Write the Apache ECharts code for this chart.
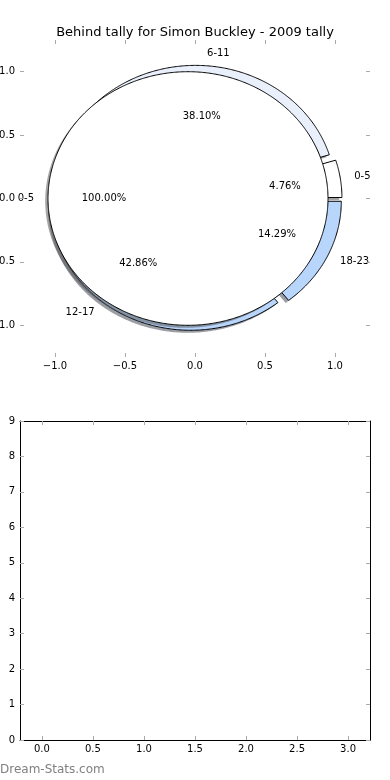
<!DOCTYPE html>
<html>
<head>
<meta charset="utf-8">
<script src="https://cdn.jsdelivr.net/npm/echarts@6/dist/echarts.min.js"></script>
<style>
html,body{margin:0;padding:0;background:#fff;}
#chart{width:390px;height:780px;}
</style>
</head>
<body>
<div id="chart"></div>
<script>
// ---- data ----
const categories = ['0-5', '6-11', '12-17', '18-23'];
const tallies = [1, 8, 9, 3];
const overlayCategories = ['0-5'];
const overlayTallies = [1];
const pieTicks = [-1, -0.5, 0, 0.5, 1];
const pieTickLabels = ['\u22121.0', '\u22120.5', '0.0', '0.5', '1.0'];
const lowerXTicks = [0, 0.5, 1, 1.5, 2, 2.5, 3];
const lowerXTickLabels = ['0.0', '0.5', '1.0', '1.5', '2.0', '2.5', '3.0'];
const lowerYTicks = [0, 1, 2, 3, 4, 5, 6, 7, 8, 9];
const lowerYTickLabels = ['0', '1', '2', '3', '4', '5', '6', '7', '8', '9'];
const titleText = 'Behind tally for Simon Buckley - 2009 tally';
const watermark = 'Dream-Stats.com';

// ---- styles ----
const wedgeColors = ['#ffffff', '#e9f0fc', '#b8d5fb', '#b8d5fb'];
const overlayColor = '#ffffff';
const EXPLODE = 0.05;
const SHADOW_DX = -0.02, SHADOW_DY = -0.02;
const FONT = 'DejaVu Sans';
const TICK_COLOR = '#aaaaaa';

function layout(vals) {
  const total = vals.reduce((a, b) => a + b, 0);
  let acc = 0;
  return vals.map(v => {
    const a1 = acc / total * 360;
    acc += v;
    const a2 = acc / total * 360;
    return [a1, a2, v / total * 100];
  });
}
const wedgeLayout = layout(tallies);
const overlayLayout = layout(overlayTallies);

function shade(hex) {
  const r = parseInt(hex.slice(1, 3), 16), g = parseInt(hex.slice(3, 5), 16), b = parseInt(hex.slice(5, 7), 16);
  return 'rgba(' + Math.round(r * 0.3) + ',' + Math.round(g * 0.3) + ',' + Math.round(b * 0.3) + ',0.5)';
}

function wedgePoints(api, cx, cy, a1, a2) {
  const pts = [];
  const full = (a2 - a1) >= 359.999;
  if (!full) pts.push(api.coord([cx, cy]));
  const n = Math.max(4, Math.ceil((a2 - a1) / 0.5));
  for (let i = 0; i <= n; i++) {
    const a = (a1 + (a2 - a1) * i / n) * Math.PI / 180;
    pts.push(api.coord([cx + Math.cos(a), cy + Math.sin(a)]));
  }
  return pts;
}

function explodeCenter(a1, a2, e) {
  const m = (a1 + a2) / 2 * Math.PI / 180;
  return [e * Math.cos(m), e * Math.sin(m)];
}

function makeWedgeRenderer(colors, overlay) {
  return function (params, api) {
    const a1 = api.value(0), a2 = api.value(1);
    let c;
    if (overlay) c = [-EXPLODE, 0];
    else c = explodeCenter(a1, a2, EXPLODE);
    const color = colors[params.dataIndex % colors.length];
    return {
      type: 'group',
      children: [
        { type: 'polygon', shape: { points: wedgePoints(api, c[0] + SHADOW_DX, c[1] + SHADOW_DY, a1, a2) },
          style: { fill: shade(color), stroke: null }, z2: params.dataIndex * 2 },
        { type: 'polygon', shape: { points: wedgePoints(api, c[0], c[1], a1, a2) },
          style: { fill: color, stroke: '#000', lineWidth: 1 }, z2: params.dataIndex * 2 + 1 }
      ]
    };
  };
}

function makeLabelRenderer(names, overlay) {
  return function (params, api) {
    const a1 = api.value(0), a2 = api.value(1), pct = api.value(2);
    const m = (a1 + a2) / 2 * Math.PI / 180;
    const c = overlay ? [-EXPLODE, 0] : explodeCenter(a1, a2, EXPLODE);
    const lx = c[0] + 1.1 * Math.cos(m), ly = c[1] + 1.1 * Math.sin(m);
    const px = c[0] + 0.6 * Math.cos(m), py = c[1] + 0.6 * Math.sin(m);
    const lp = api.coord([lx, ly]), pp = api.coord([px, py]);
    return {
      type: 'group',
      children: [
        { type: 'text', x: lp[0], y: lp[1],
          style: { text: names[params.dataIndex], fill: '#000', font: '10px "' + FONT + '"',
                   align: lx > 0 ? 'left' : 'right', verticalAlign: 'middle' } },
        { type: 'text', x: pp[0], y: pp[1],
          style: { text: pct.toFixed(2) + '%', fill: '#000', font: '10px "' + FONT + '"',
                   align: 'center', verticalAlign: 'middle' } }
      ]
    };
  };
}

function fmtFrom(ticks, labels) {
  return function (v) {
    for (let i = 0; i < ticks.length; i++) if (Math.abs(ticks[i] - v) < 1e-6) return labels[i];
    return '';
  };
}

const tickStyle = { show: true, inside: true, length: 4, lineStyle: { color: TICK_COLOR, width: 1 } };
const labelFont = { fontFamily: FONT, fontSize: 10, color: '#000' };

function axis(base, ticks, labels, showLabels, margin, spine) {
  return Object.assign({
    type: 'value',
    z: 10,
    axisLine: { show: !!spine, onZero: false, lineStyle: { color: '#000', width: 1 } },
    splitLine: { show: false },
    axisTick: Object.assign({ customValues: ticks }, tickStyle),
    axisLabel: Object.assign({ show: showLabels, customValues: ticks, formatter: fmtFrom(ticks, labels), margin: margin }, labelFont)
  }, base);
}

const chart = echarts.init(document.getElementById('chart'), null, { renderer: 'canvas' });
chart.setOption({
  animation: false,
  backgroundColor: '#fff',
  title: {
    text: titleText, left: 'center', top: 20,
    textStyle: { fontFamily: FONT, fontSize: 13, fontWeight: 'normal', color: '#000', lineHeight: 15 }
  },
  grid: [
    { left: 20, top: 40, width: 350, height: 317, show: false, containLabel: false, outerBoundsMode: 'none' },
    { left: 20, top: 421, width: 350, height: 319, show: false, containLabel: false, outerBoundsMode: 'none' }
  ],
  xAxis: [
    axis({ gridIndex: 0, min: -1.25, max: 1.25, position: 'bottom' }, pieTicks, pieTickLabels, true, 4, false),
    axis({ gridIndex: 0, min: -1.25, max: 1.25, position: 'top' }, pieTicks, pieTickLabels, false, 4, false),
    axis({ gridIndex: 1, min: -0.215, max: 3.215, position: 'bottom' }, lowerXTicks, lowerXTickLabels, true, 4, true),
    axis({ gridIndex: 1, min: -0.215, max: 3.215, position: 'top' }, lowerXTicks, lowerXTickLabels, false, 4, true)
  ],
  yAxis: [
    axis({ gridIndex: 0, min: -1.25, max: 1.25, position: 'left' }, pieTicks, pieTickLabels, true, 5, false),
    axis({ gridIndex: 0, min: -1.25, max: 1.25, position: 'right' }, pieTicks, pieTickLabels, false, 5, false),
    axis({ gridIndex: 1, min: 0, max: 9, position: 'left' }, lowerYTicks, lowerYTickLabels, true, 5, true),
    axis({ gridIndex: 1, min: 0, max: 9, position: 'right' }, lowerYTicks, lowerYTickLabels, false, 5, true)
  ],
  series: [
    { type: 'custom', name: 'wedges', xAxisIndex: 0, yAxisIndex: 0, z: 2, silent: true,
      renderItem: makeWedgeRenderer(wedgeColors, false),
      encode: { x: [], y: [] },
      data: categories.map((c, i) => ({ name: c, value: wedgeLayout[i] })) },
    { type: 'custom', name: 'overlay', xAxisIndex: 0, yAxisIndex: 0, z: 3, silent: true,
      renderItem: makeWedgeRenderer([overlayColor], true),
      encode: { x: [], y: [] },
      data: overlayCategories.map((c, i) => ({ name: c, value: overlayLayout[i] })) },
    { type: 'custom', name: 'wedgeLabels', xAxisIndex: 0, yAxisIndex: 0, z: 5, silent: true,
      renderItem: makeLabelRenderer(categories, false),
      encode: { x: [], y: [] },
      data: categories.map((c, i) => ({ name: c, value: wedgeLayout[i] })) },
    { type: 'custom', name: 'overlayLabels', xAxisIndex: 0, yAxisIndex: 0, z: 5, silent: true,
      renderItem: makeLabelRenderer(overlayCategories, true),
      encode: { x: [], y: [] },
      data: overlayCategories.map((c, i) => ({ name: c, value: overlayLayout[i] })) },
    { type: 'line', xAxisIndex: 2, yAxisIndex: 2, data: [], silent: true }
  ],
  graphic: [
    { type: 'text', left: 0, top: 764,
      style: { text: watermark, font: '12px "' + FONT + '"', fill: '#808080' } }
  ]
});
</script>
</body>
</html>
